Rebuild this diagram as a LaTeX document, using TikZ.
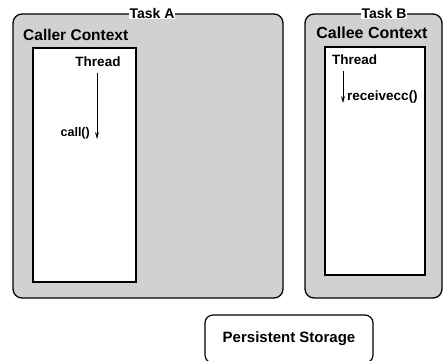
\documentclass[tikz,border=0pt]{standalone}
\usepackage{fontspec}
\setmainfont{Liberation Sans}
\usetikzlibrary{arrows.meta}
\tikzset{
  taskbox/.style={draw=black, line width=1.3pt, fill=black!18, rounded corners=9pt},
  ctxbox/.style={draw=black, line width=1.8pt, fill=white},
  storebox/.style={draw=black, line width=1.2pt, fill=white, rounded corners=8pt},
  lbl/.style={font=\bfseries\fontsize{13.5}{15}\selectfont, inner sep=1pt},
  smlbl/.style={font=\bfseries\fontsize{12.5}{14}\selectfont, inner sep=1pt},
  biglbl/.style={font=\bfseries\fontsize{15.5}{18}\selectfont, inner sep=1pt},
  tasklbl/.style={font=\bfseries\fontsize{14}{16}\selectfont, fill=white, inner sep=1pt},
  flow/.style={line width=0.9pt, -{Stealth[length=7pt,width=4pt]}}
}
\begin{document}
\begin{tikzpicture}[x=1pt,y=-1pt]
\useasboundingbox (0,0) rectangle (444,360);
% Task A
\draw[taskbox] (13,14) rectangle (283,298);
\node[tasklbl] (taskA) at (152,13) {Task A};
\node[biglbl, anchor=west] (callerctx) at (22,35) {Caller Context};
\draw[ctxbox] (33,48) rectangle (136,282);
\node[lbl] (threadA) at (98,62) {Thread};
\coordinate (callend) at (97,139);
\draw[flow] (97,73) -- (callend);
\node[smlbl, anchor=east] (call) at (91,133) {call()};
% Task B
\draw[taskbox] (305,14) rectangle (442,298);
\node[tasklbl] (taskB) at (384,13) {Task B};
\node[biglbl, font=\bfseries\fontsize{16}{18}\selectfont] (calleectx) at (372,33) {Callee Context};
\draw[ctxbox] (325,47) rectangle (425,275);
\node[lbl, anchor=west] (threadB) at (331,60) {Thread};
\coordinate (recvend) at (343,103);
\draw[flow] (343,71) -- (recvend);
\node[smlbl, font=\bfseries\fontsize{13.5}{15}\selectfont, anchor=west] (recv) at (346,97) {receivecc()};
% Persistent storage
\node[storebox, minimum width=168pt, minimum height=48pt, font=\bfseries\fontsize{15}{17}\selectfont] (store) at (289,339) {Persistent Storage};
\end{tikzpicture}
\end{document}
